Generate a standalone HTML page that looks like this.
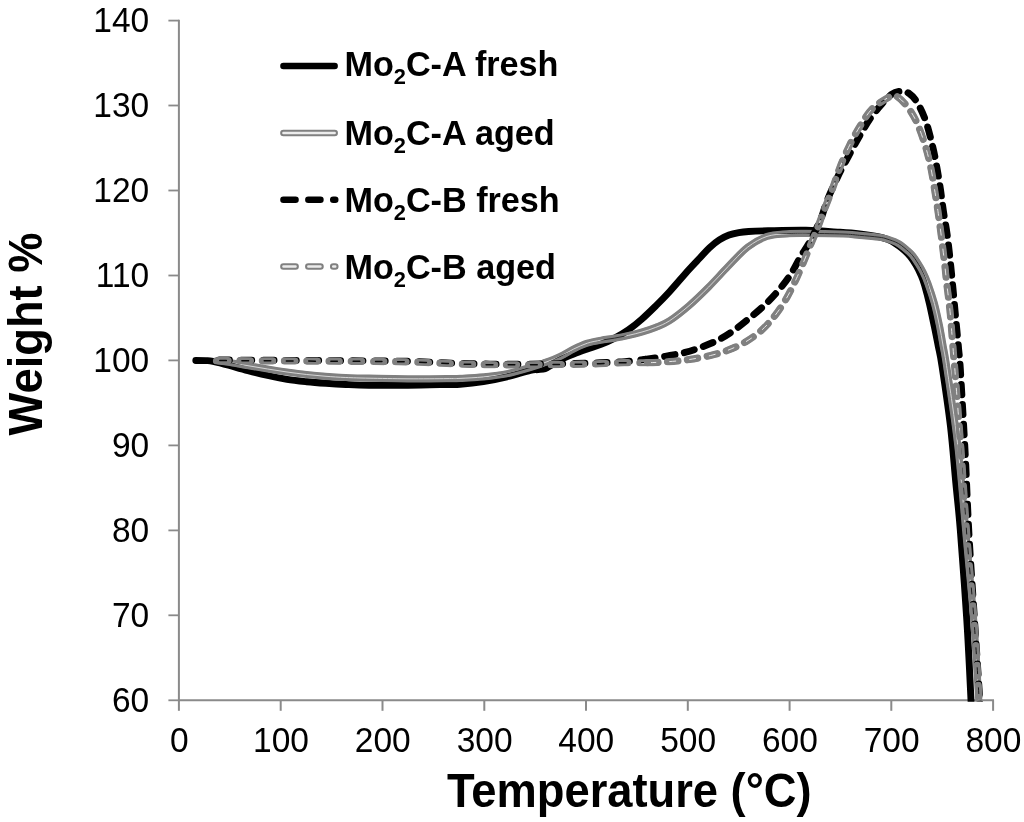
<!DOCTYPE html>
<html lang="en"><head><meta charset="utf-8"><title>TGA weight vs temperature</title>
<style>
html,body{margin:0;padding:0;background:#fff;}
body{width:1024px;height:822px;overflow:hidden;font-family:"Liberation Sans",sans-serif;}
svg{display:block;}
text{font-family:"Liberation Sans",sans-serif;fill:#000;}
.tick{font-size:33.5px;}
.leg{font-size:34.2px;font-weight:bold;}
.sub{font-size:21.8px;}
.ttl{font-size:45.3px;font-weight:bold;}
</style></head><body>
<svg width="1024" height="822" viewBox="0 0 1024 822">
<rect width="1024" height="822" fill="#fff"/>
<defs>
<clipPath id="plot"><rect x="170" y="0" width="854" height="701.7"/></clipPath>
<mask id="mAa" maskUnits="userSpaceOnUse" x="0" y="0" width="1024" height="822"><path d="M216.5 360.8C218.4 361.1 222.8 361.5 228.0 362.3C233.2 363.1 241.4 364.6 248.0 365.7C254.6 366.8 261.2 367.9 267.7 369.0C274.2 370.1 280.5 371.1 287.0 372.0C293.5 372.9 300.2 373.8 306.7 374.5C313.2 375.2 319.5 375.8 326.0 376.3C332.5 376.8 338.6 377.2 345.8 377.5C353.0 377.8 358.6 378.0 369.0 378.2C379.4 378.4 395.0 378.7 408.0 378.8C421.0 378.9 438.3 378.7 447.0 378.6C455.7 378.5 453.9 378.7 460.0 378.4C466.1 378.1 475.6 377.7 483.4 376.9C491.2 376.1 499.1 375.3 506.9 373.7C514.7 372.1 523.9 369.4 530.3 367.5C536.6 365.6 540.0 364.3 545.0 362.5C550.0 360.7 555.2 358.8 560.0 356.5C564.8 354.2 569.2 351.2 573.7 349.0C578.2 346.8 582.8 344.7 587.3 343.2C591.8 341.7 596.4 341.0 601.0 340.2C605.6 339.4 610.1 338.9 614.7 338.1C619.3 337.3 623.9 336.4 628.4 335.4C632.9 334.4 637.5 333.3 642.0 332.0C646.5 330.7 651.1 329.3 655.7 327.4C660.3 325.5 664.0 324.4 669.5 320.8C675.0 317.2 682.5 311.3 689.0 305.7C695.5 300.1 702.1 293.6 708.6 287.1C715.1 280.6 721.5 273.3 728.0 266.6C734.5 259.9 741.2 252.1 747.7 247.1C754.2 242.1 760.5 238.6 767.0 236.4C773.5 234.2 780.2 234.3 786.7 233.8C793.2 233.3 796.6 233.4 806.0 233.4C815.4 233.4 834.1 233.7 843.0 234.0C851.9 234.3 853.5 234.8 859.5 235.3C865.5 235.8 874.4 236.6 879.0 237.2C883.6 237.8 883.7 237.9 887.0 239.0C890.3 240.1 895.0 241.5 898.6 243.6C902.2 245.7 906.0 249.3 908.4 251.3C910.8 253.3 911.3 254.0 912.8 255.8C914.2 257.6 915.4 259.3 917.1 262.0C918.8 264.7 921.2 268.4 923.0 272.0C924.8 275.6 926.0 278.2 927.9 283.4C929.8 288.6 932.5 296.5 934.4 303.4C936.3 310.3 937.8 317.6 939.3 324.8C940.8 332.0 941.9 339.0 943.2 346.3C944.5 353.6 944.5 351.7 947.0 368.6C949.5 385.5 954.8 419.0 958.0 447.6C961.2 476.2 963.9 511.3 966.5 540.0C969.1 568.7 971.7 593.3 973.7 620.0C975.8 646.7 977.9 686.0 978.8 700.0C979.7 714.0 979.0 703.3 979.0 704.0" fill="none" stroke="#fff" stroke-width="8.2" stroke-linecap="round" stroke-linejoin="round"/><path d="M216.5 360.8C218.4 361.1 222.8 361.5 228.0 362.3C233.2 363.1 241.4 364.6 248.0 365.7C254.6 366.8 261.2 367.9 267.7 369.0C274.2 370.1 280.5 371.1 287.0 372.0C293.5 372.9 300.2 373.8 306.7 374.5C313.2 375.2 319.5 375.8 326.0 376.3C332.5 376.8 338.6 377.2 345.8 377.5C353.0 377.8 358.6 378.0 369.0 378.2C379.4 378.4 395.0 378.7 408.0 378.8C421.0 378.9 438.3 378.7 447.0 378.6C455.7 378.5 453.9 378.7 460.0 378.4C466.1 378.1 475.6 377.7 483.4 376.9C491.2 376.1 499.1 375.3 506.9 373.7C514.7 372.1 523.9 369.4 530.3 367.5C536.6 365.6 540.0 364.3 545.0 362.5C550.0 360.7 555.2 358.8 560.0 356.5C564.8 354.2 569.2 351.2 573.7 349.0C578.2 346.8 582.8 344.7 587.3 343.2C591.8 341.7 596.4 341.0 601.0 340.2C605.6 339.4 610.1 338.9 614.7 338.1C619.3 337.3 623.9 336.4 628.4 335.4C632.9 334.4 637.5 333.3 642.0 332.0C646.5 330.7 651.1 329.3 655.7 327.4C660.3 325.5 664.0 324.4 669.5 320.8C675.0 317.2 682.5 311.3 689.0 305.7C695.5 300.1 702.1 293.6 708.6 287.1C715.1 280.6 721.5 273.3 728.0 266.6C734.5 259.9 741.2 252.1 747.7 247.1C754.2 242.1 760.5 238.6 767.0 236.4C773.5 234.2 780.2 234.3 786.7 233.8C793.2 233.3 796.6 233.4 806.0 233.4C815.4 233.4 834.1 233.7 843.0 234.0C851.9 234.3 853.5 234.8 859.5 235.3C865.5 235.8 874.4 236.6 879.0 237.2C883.6 237.8 883.7 237.9 887.0 239.0C890.3 240.1 895.0 241.5 898.6 243.6C902.2 245.7 906.0 249.3 908.4 251.3C910.8 253.3 911.3 254.0 912.8 255.8C914.2 257.6 915.4 259.3 917.1 262.0C918.8 264.7 921.2 268.4 923.0 272.0C924.8 275.6 926.0 278.2 927.9 283.4C929.8 288.6 932.5 296.5 934.4 303.4C936.3 310.3 937.8 317.6 939.3 324.8C940.8 332.0 941.9 339.0 943.2 346.3C944.5 353.6 944.5 351.7 947.0 368.6C949.5 385.5 954.8 419.0 958.0 447.6C961.2 476.2 963.9 511.3 966.5 540.0C969.1 568.7 971.7 593.3 973.7 620.0C975.8 646.7 977.9 686.0 978.8 700.0C979.7 714.0 979.0 703.3 979.0 704.0" fill="none" stroke="#555" stroke-width="1.0" stroke-linecap="round" stroke-linejoin="round"/></mask>
<mask id="mBa1" maskUnits="userSpaceOnUse" x="0" y="0" width="1024" height="822"><path d="M218.0 360.6C225.0 360.6 241.3 360.7 260.0 360.8C278.7 360.9 307.3 361.1 330.0 361.2C352.7 361.3 380.2 361.5 396.0 361.7C411.8 361.9 416.5 362.2 425.0 362.5C433.5 362.8 439.5 363.2 447.0 363.5C454.5 363.8 462.8 364.1 470.0 364.3C477.2 364.5 482.8 364.6 490.0 364.7C497.2 364.8 501.3 364.8 513.0 364.8C524.7 364.8 545.5 364.7 560.0 364.5C574.5 364.3 589.3 364.0 600.0 363.7C610.7 363.4 616.4 362.9 624.3 362.7C632.2 362.5 640.0 362.9 647.5 362.7" fill="none" stroke="#fff" stroke-width="8.2" stroke-linecap="round" stroke-linejoin="round" stroke-dasharray="10.4 11.8"/><path d="M218.0 360.6C225.0 360.6 241.3 360.7 260.0 360.8C278.7 360.9 307.3 361.1 330.0 361.2C352.7 361.3 380.2 361.5 396.0 361.7C411.8 361.9 416.5 362.2 425.0 362.5C433.5 362.8 439.5 363.2 447.0 363.5C454.5 363.8 462.8 364.1 470.0 364.3C477.2 364.5 482.8 364.6 490.0 364.7C497.2 364.8 501.3 364.8 513.0 364.8C524.7 364.8 545.5 364.7 560.0 364.5C574.5 364.3 589.3 364.0 600.0 363.7C610.7 363.4 616.4 362.9 624.3 362.7C632.2 362.5 640.0 362.9 647.5 362.7" fill="none" stroke="#111" stroke-width="1.5" stroke-linecap="round" stroke-linejoin="round" stroke-dasharray="6.6 15.6" stroke-dashoffset="-1.9"/></mask>
<mask id="mBa2" maskUnits="userSpaceOnUse" x="0" y="0" width="1024" height="822"><path d="M647.5 362.7C655.0 362.5 662.3 362.2 669.4 361.6C676.5 361.1 683.1 360.4 690.0 359.4C696.9 358.4 704.2 357.0 710.5 355.5C716.8 354.0 722.1 352.5 728.0 350.2C733.9 347.9 740.2 345.1 745.7 341.8C751.2 338.5 756.4 334.9 761.3 330.5C766.2 326.1 770.8 320.9 775.0 315.5C779.2 310.1 783.1 304.1 786.7 297.9C790.3 291.7 793.4 285.1 796.5 278.4C799.6 271.7 802.7 264.1 805.3 257.9C807.9 251.7 810.0 246.0 812.0 241.3C814.0 236.6 815.1 234.3 817.0 229.5C818.9 224.7 820.7 219.2 823.2 212.6C825.7 206.0 829.2 197.6 832.0 190.1C834.8 182.6 836.9 175.2 839.8 167.7C842.7 160.2 846.2 152.2 849.6 145.2C853.0 138.2 856.6 131.7 860.3 125.7C864.0 119.7 867.4 113.6 872.0 109.0C876.6 104.4 883.8 100.1 887.7 97.9C891.6 95.7 892.4 94.6 895.5 95.8C898.6 97.0 902.8 101.0 906.2 105.2C909.6 109.4 912.9 114.3 916.0 120.8C919.1 127.3 922.4 136.5 924.8 144.2C927.2 151.8 929.0 159.2 930.6 166.7C932.2 174.2 933.3 181.6 934.5 189.1C935.7 196.6 936.9 203.9 938.0 211.6C939.1 219.3 940.1 226.8 941.2 235.3C942.3 243.8 943.5 254.2 944.5 262.6C945.5 271.0 946.1 278.4 947.0 285.9C947.9 293.3 948.9 300.2 949.6 307.3C950.4 314.4 950.9 320.9 951.5 328.7C952.1 336.5 953.0 347.4 953.5 354.0C954.0 360.6 953.5 352.6 954.8 368.6C956.0 384.6 959.0 422.3 961.0 450.0C963.0 477.7 964.6 506.7 966.8 535.0C969.0 563.3 971.9 592.5 974.0 620.0C976.1 647.5 978.3 686.0 979.2 700.0C980.1 714.0 979.4 703.3 979.4 704.0" fill="none" stroke="#fff" stroke-width="8.2" stroke-linecap="round" stroke-linejoin="round" stroke-dasharray="10.4 9.6"/><path d="M647.5 362.7C655.0 362.5 662.3 362.2 669.4 361.6C676.5 361.1 683.1 360.4 690.0 359.4C696.9 358.4 704.2 357.0 710.5 355.5C716.8 354.0 722.1 352.5 728.0 350.2C733.9 347.9 740.2 345.1 745.7 341.8C751.2 338.5 756.4 334.9 761.3 330.5C766.2 326.1 770.8 320.9 775.0 315.5C779.2 310.1 783.1 304.1 786.7 297.9C790.3 291.7 793.4 285.1 796.5 278.4C799.6 271.7 802.7 264.1 805.3 257.9C807.9 251.7 810.0 246.0 812.0 241.3C814.0 236.6 815.1 234.3 817.0 229.5C818.9 224.7 820.7 219.2 823.2 212.6C825.7 206.0 829.2 197.6 832.0 190.1C834.8 182.6 836.9 175.2 839.8 167.7C842.7 160.2 846.2 152.2 849.6 145.2C853.0 138.2 856.6 131.7 860.3 125.7C864.0 119.7 867.4 113.6 872.0 109.0C876.6 104.4 883.8 100.1 887.7 97.9C891.6 95.7 892.4 94.6 895.5 95.8C898.6 97.0 902.8 101.0 906.2 105.2C909.6 109.4 912.9 114.3 916.0 120.8C919.1 127.3 922.4 136.5 924.8 144.2C927.2 151.8 929.0 159.2 930.6 166.7C932.2 174.2 933.3 181.6 934.5 189.1C935.7 196.6 936.9 203.9 938.0 211.6C939.1 219.3 940.1 226.8 941.2 235.3C942.3 243.8 943.5 254.2 944.5 262.6C945.5 271.0 946.1 278.4 947.0 285.9C947.9 293.3 948.9 300.2 949.6 307.3C950.4 314.4 950.9 320.9 951.5 328.7C952.1 336.5 953.0 347.4 953.5 354.0C954.0 360.6 953.5 352.6 954.8 368.6C956.0 384.6 959.0 422.3 961.0 450.0C963.0 477.7 964.6 506.7 966.8 535.0C969.0 563.3 971.9 592.5 974.0 620.0C976.1 647.5 978.3 686.0 979.2 700.0C980.1 714.0 979.4 703.3 979.4 704.0" fill="none" stroke="#333" stroke-width="1.0" stroke-linecap="round" stroke-linejoin="round" stroke-dasharray="6 14" stroke-dashoffset="-2.2"/></mask>
<mask id="mL2" maskUnits="userSpaceOnUse" x="0" y="0" width="1024" height="822"><path d="M283.4 133H334.7" fill="none" stroke="#fff" stroke-width="8.2" stroke-linecap="round" stroke-linejoin="round"/><path d="M283.4 133H334.7" fill="none" stroke="#262626" stroke-width="2.4" stroke-linecap="round" stroke-linejoin="round"/></mask>
<mask id="mL4" maskUnits="userSpaceOnUse" x="0" y="0" width="1024" height="822"><path d="M283.4 266.5H335.3" fill="none" stroke="#fff" stroke-width="8.2" stroke-linecap="round" stroke-linejoin="round" stroke-dasharray="12.2 12.7"/><path d="M283.4 266.5H335.3" fill="none" stroke="#262626" stroke-width="2.4" stroke-linecap="round" stroke-linejoin="round" stroke-dasharray="12.2 12.7"/></mask>
</defs>
<g stroke="#8a8a8a" stroke-width="2" fill="none">
<path d="M178.9 19.7V701.2"/>
<path d="M178.0 700.3H994.0"/>
<path d="M168.4 20.6H178.9" stroke-width="1.8"/>
<path d="M168.4 105.5H178.9" stroke-width="1.8"/>
<path d="M168.4 190.5H178.9" stroke-width="1.8"/>
<path d="M168.4 275.5H178.9" stroke-width="1.8"/>
<path d="M168.4 360.4H178.9" stroke-width="1.8"/>
<path d="M168.4 445.4H178.9" stroke-width="1.8"/>
<path d="M168.4 530.4H178.9" stroke-width="1.8"/>
<path d="M168.4 615.3H178.9" stroke-width="1.8"/>
<path d="M168.4 700.3H178.9" stroke-width="1.8"/>
<path d="M178.9 700.3V710.8"/>
<path d="M280.7 700.3V710.8"/>
<path d="M382.5 700.3V710.8"/>
<path d="M484.3 700.3V710.8"/>
<path d="M586.0 700.3V710.8"/>
<path d="M687.8 700.3V710.8"/>
<path d="M789.6 700.3V710.8"/>
<path d="M891.3 700.3V710.8"/>
<path d="M993.1 700.3V710.8"/>
</g>
<g class="tick" text-anchor="end">
<text transform="translate(149.2 32.4) scale(1 1.04)">140</text>
<text transform="translate(149.2 117.3) scale(1 1.04)">130</text>
<text transform="translate(149.2 202.3) scale(1 1.04)">120</text>
<text transform="translate(149.2 287.3) scale(1 1.04)">110</text>
<text transform="translate(149.2 372.2) scale(1 1.04)">100</text>
<text transform="translate(149.2 457.2) scale(1 1.04)">90</text>
<text transform="translate(149.2 542.2) scale(1 1.04)">80</text>
<text transform="translate(149.2 627.1) scale(1 1.04)">70</text>
<text transform="translate(149.2 712.1) scale(1 1.04)">60</text>
</g>
<g class="tick" text-anchor="middle">
<text transform="translate(179.2 752.2) scale(1 1.04)">0</text>
<text transform="translate(281.0 752.2) scale(1 1.04)">100</text>
<text transform="translate(382.8 752.2) scale(1 1.04)">200</text>
<text transform="translate(484.6 752.2) scale(1 1.04)">300</text>
<text transform="translate(586.3 752.2) scale(1 1.04)">400</text>
<text transform="translate(688.1 752.2) scale(1 1.04)">500</text>
<text transform="translate(789.9 752.2) scale(1 1.04)">600</text>
<text transform="translate(891.6 752.2) scale(1 1.04)">700</text>
<text transform="translate(993.4 752.2) scale(1 1.04)">800</text>
</g>
<text class="ttl" transform="translate(629.3 807.2) scale(1 1.05)" text-anchor="middle">Temperature (°C)</text>
<text class="ttl" transform="translate(42.2 334) rotate(-90) scale(1 1.05)" text-anchor="middle">Weight %</text>
<g clip-path="url(#plot)" fill="none" stroke-linecap="round" stroke-linejoin="round" stroke-width="6.9">
<path d="M195.8 360.5C197.5 360.5 203.1 360.5 206.0 360.6C208.9 360.7 209.2 360.5 213.0 361.3C216.8 362.1 222.8 363.6 228.6 365.2C234.4 366.8 241.5 368.9 248.0 370.6C254.5 372.3 261.2 374.0 267.7 375.5C274.2 377.0 280.5 378.3 287.0 379.4C293.5 380.4 300.2 381.1 306.7 381.8C313.2 382.5 319.5 382.9 326.0 383.3C332.5 383.8 338.6 384.2 345.8 384.5C353.0 384.8 358.6 385.1 369.0 385.2C379.4 385.3 395.0 385.4 408.0 385.3C421.0 385.2 438.3 384.7 447.0 384.5C455.7 384.3 453.9 384.7 460.0 384.2C466.1 383.7 475.6 382.7 483.4 381.5C491.2 380.3 499.1 378.7 506.9 376.8C514.7 374.9 525.1 371.6 530.3 370.4C535.5 369.2 535.5 369.9 538.0 369.6C540.5 369.3 542.8 369.3 545.0 368.6C547.2 367.9 548.7 366.6 551.0 365.2C553.3 363.8 554.8 362.4 558.6 360.5C562.4 358.6 568.9 355.9 573.7 354.0C578.5 352.1 582.8 350.6 587.3 349.0C591.8 347.4 596.4 346.1 601.0 344.3C605.6 342.5 610.1 340.5 614.7 338.1C619.3 335.7 623.9 333.1 628.4 329.9C632.9 326.7 637.5 323.0 642.0 319.0C646.5 315.0 651.1 310.5 655.7 306.0C660.3 301.5 664.0 297.9 669.5 291.8C675.0 285.7 684.0 275.1 689.0 269.5C694.0 263.9 696.4 261.6 699.8 258.0C703.2 254.4 706.2 250.7 709.5 247.7C712.8 244.7 716.0 242.0 719.3 239.9C722.5 237.8 725.8 236.2 729.0 235.0C732.2 233.8 735.5 233.2 738.8 232.6C742.1 232.0 743.7 231.8 748.6 231.5C753.5 231.2 758.4 231.0 768.0 230.8C777.6 230.6 794.0 230.1 806.0 230.3C818.0 230.6 831.1 231.7 840.0 232.3C848.9 232.9 853.0 233.2 859.5 233.9C866.0 234.7 874.2 235.9 879.0 236.8C883.8 237.8 885.4 238.6 888.0 239.6C890.6 240.6 892.4 241.6 894.7 243.1C897.0 244.6 899.4 246.1 902.0 248.3C904.6 250.5 908.0 253.7 910.3 256.5C912.6 259.3 914.2 261.9 916.0 265.0C917.8 268.1 919.5 271.5 920.9 274.8C922.3 278.1 923.2 280.1 924.6 285.0C926.0 289.9 927.9 297.0 929.5 304.0C931.1 311.0 932.9 319.8 934.4 326.8C935.9 333.9 937.0 339.8 938.3 346.3C939.6 352.8 940.0 352.8 942.0 366.0C944.0 379.2 948.1 406.3 950.4 425.7C952.7 445.1 954.1 465.2 955.8 482.6C957.4 500.0 958.5 507.1 960.3 530.0C962.1 552.9 965.0 591.7 966.8 620.0C968.6 648.3 970.3 686.0 971.0 700.0C971.7 714.0 971.2 703.3 971.2 704.0" stroke="#000"/>
<path d="M216.5 360.8C218.4 361.1 222.8 361.5 228.0 362.3C233.2 363.1 241.4 364.6 248.0 365.7C254.6 366.8 261.2 367.9 267.7 369.0C274.2 370.1 280.5 371.1 287.0 372.0C293.5 372.9 300.2 373.8 306.7 374.5C313.2 375.2 319.5 375.8 326.0 376.3C332.5 376.8 338.6 377.2 345.8 377.5C353.0 377.8 358.6 378.0 369.0 378.2C379.4 378.4 395.0 378.7 408.0 378.8C421.0 378.9 438.3 378.7 447.0 378.6C455.7 378.5 453.9 378.7 460.0 378.4C466.1 378.1 475.6 377.7 483.4 376.9C491.2 376.1 499.1 375.3 506.9 373.7C514.7 372.1 523.9 369.4 530.3 367.5C536.6 365.6 540.0 364.3 545.0 362.5C550.0 360.7 555.2 358.8 560.0 356.5C564.8 354.2 569.2 351.2 573.7 349.0C578.2 346.8 582.8 344.7 587.3 343.2C591.8 341.7 596.4 341.0 601.0 340.2C605.6 339.4 610.1 338.9 614.7 338.1C619.3 337.3 623.9 336.4 628.4 335.4C632.9 334.4 637.5 333.3 642.0 332.0C646.5 330.7 651.1 329.3 655.7 327.4C660.3 325.5 664.0 324.4 669.5 320.8C675.0 317.2 682.5 311.3 689.0 305.7C695.5 300.1 702.1 293.6 708.6 287.1C715.1 280.6 721.5 273.3 728.0 266.6C734.5 259.9 741.2 252.1 747.7 247.1C754.2 242.1 760.5 238.6 767.0 236.4C773.5 234.2 780.2 234.3 786.7 233.8C793.2 233.3 796.6 233.4 806.0 233.4C815.4 233.4 834.1 233.7 843.0 234.0C851.9 234.3 853.5 234.8 859.5 235.3C865.5 235.8 874.4 236.6 879.0 237.2C883.6 237.8 883.7 237.9 887.0 239.0C890.3 240.1 895.0 241.5 898.6 243.6C902.2 245.7 906.0 249.3 908.4 251.3C910.8 253.3 911.3 254.0 912.8 255.8C914.2 257.6 915.4 259.3 917.1 262.0C918.8 264.7 921.2 268.4 923.0 272.0C924.8 275.6 926.0 278.2 927.9 283.4C929.8 288.6 932.5 296.5 934.4 303.4C936.3 310.3 937.8 317.6 939.3 324.8C940.8 332.0 941.9 339.0 943.2 346.3C944.5 353.6 944.5 351.7 947.0 368.6C949.5 385.5 954.8 419.0 958.0 447.6C961.2 476.2 963.9 511.3 966.5 540.0C969.1 568.7 971.7 593.3 973.7 620.0C975.8 646.7 977.9 686.0 978.8 700.0C979.7 714.0 979.0 703.3 979.0 704.0" stroke="#808080" stroke-width="7.2" mask="url(#mAa)"/>
<path d="M219.3 360.0C226.1 360.0 241.6 360.1 260.0 360.2C278.4 360.3 307.3 360.5 330.0 360.6C352.7 360.8 380.2 360.9 396.0 361.1C411.8 361.3 416.5 361.6 425.0 361.9C433.5 362.2 439.5 362.6 447.0 362.9C454.5 363.2 462.8 363.5 470.0 363.7C477.2 363.9 482.8 364.0 490.0 364.1C497.2 364.2 501.3 364.2 513.0 364.2C524.7 364.1 545.5 364.0 560.0 363.8C574.5 363.6 589.2 363.2 600.0 362.8C610.8 362.4 617.5 362.2 625.0 361.6C632.5 361.0 638.1 360.2 644.8 359.3" stroke="#000" stroke-dasharray="10.4 11.8"/>
<path d="M644.8 359.3C651.5 358.4 658.6 357.5 665.3 356.3C672.0 355.1 678.9 354.0 685.1 352.4C691.3 350.8 696.8 348.9 702.7 346.7C708.6 344.4 714.8 341.9 720.3 338.9C725.8 335.9 730.8 332.6 736.0 328.8C741.2 325.1 746.8 320.4 751.6 316.4C756.4 312.4 760.6 308.9 765.0 304.7C769.4 300.5 773.7 296.0 778.0 291.0C782.3 286.0 786.9 280.2 790.6 274.5C794.3 268.8 797.3 262.1 800.4 256.9C803.5 251.7 806.4 247.8 809.0 243.2C811.6 238.6 813.8 234.1 816.0 229.5C818.2 224.9 820.2 220.7 822.0 215.9C823.8 211.1 824.4 207.5 827.0 200.9C829.6 194.3 834.3 183.9 837.9 176.4C841.5 168.9 845.0 162.7 848.6 156.0C852.2 149.3 855.7 142.6 859.3 136.4C862.9 130.2 866.4 124.0 870.0 118.8C873.6 113.6 877.2 109.3 880.8 105.2C884.4 101.1 888.2 96.8 891.6 94.4C895.0 92.1 898.4 91.3 901.3 91.1C904.2 90.9 906.4 91.6 909.0 93.4C911.6 95.2 914.2 97.6 917.0 102.2C919.8 106.8 923.1 113.5 925.7 120.8C928.3 128.1 930.7 138.4 932.6 146.2C934.5 154.0 935.6 160.5 936.9 167.7C938.2 174.8 939.3 181.9 940.4 189.1C941.5 196.2 942.2 203.2 943.3 210.6C944.4 218.0 945.9 225.4 947.0 233.4C948.1 241.4 949.0 249.6 950.0 258.7C951.0 267.8 951.9 277.8 952.9 287.9C953.9 297.9 954.8 308.6 955.8 319.0C956.8 329.4 958.0 341.8 958.7 350.1C959.5 358.4 959.2 352.0 960.3 368.6C961.3 385.2 963.5 422.3 965.0 450.0C966.5 477.7 967.4 506.7 969.0 535.0C970.6 563.3 972.7 592.5 974.5 620.0C976.3 647.5 978.9 686.0 979.8 700.0C980.7 714.0 980.0 703.3 980.0 704.0" stroke="#000" stroke-dasharray="10.4 9.6"/>
<path d="M218.0 360.6C225.0 360.6 241.3 360.7 260.0 360.8C278.7 360.9 307.3 361.1 330.0 361.2C352.7 361.3 380.2 361.5 396.0 361.7C411.8 361.9 416.5 362.2 425.0 362.5C433.5 362.8 439.5 363.2 447.0 363.5C454.5 363.8 462.8 364.1 470.0 364.3C477.2 364.5 482.8 364.6 490.0 364.7C497.2 364.8 501.3 364.8 513.0 364.8C524.7 364.8 545.5 364.7 560.0 364.5C574.5 364.3 589.3 364.0 600.0 363.7C610.7 363.4 616.4 362.9 624.3 362.7C632.2 362.5 640.0 362.9 647.5 362.7" stroke="#808080" stroke-width="7.2" stroke-dasharray="10.4 11.8" mask="url(#mBa1)"/>
<path d="M647.5 362.7C655.0 362.5 662.3 362.2 669.4 361.6C676.5 361.1 683.1 360.4 690.0 359.4C696.9 358.4 704.2 357.0 710.5 355.5C716.8 354.0 722.1 352.5 728.0 350.2C733.9 347.9 740.2 345.1 745.7 341.8C751.2 338.5 756.4 334.9 761.3 330.5C766.2 326.1 770.8 320.9 775.0 315.5C779.2 310.1 783.1 304.1 786.7 297.9C790.3 291.7 793.4 285.1 796.5 278.4C799.6 271.7 802.7 264.1 805.3 257.9C807.9 251.7 810.0 246.0 812.0 241.3C814.0 236.6 815.1 234.3 817.0 229.5C818.9 224.7 820.7 219.2 823.2 212.6C825.7 206.0 829.2 197.6 832.0 190.1C834.8 182.6 836.9 175.2 839.8 167.7C842.7 160.2 846.2 152.2 849.6 145.2C853.0 138.2 856.6 131.7 860.3 125.7C864.0 119.7 867.4 113.6 872.0 109.0C876.6 104.4 883.8 100.1 887.7 97.9C891.6 95.7 892.4 94.6 895.5 95.8C898.6 97.0 902.8 101.0 906.2 105.2C909.6 109.4 912.9 114.3 916.0 120.8C919.1 127.3 922.4 136.5 924.8 144.2C927.2 151.8 929.0 159.2 930.6 166.7C932.2 174.2 933.3 181.6 934.5 189.1C935.7 196.6 936.9 203.9 938.0 211.6C939.1 219.3 940.1 226.8 941.2 235.3C942.3 243.8 943.5 254.2 944.5 262.6C945.5 271.0 946.1 278.4 947.0 285.9C947.9 293.3 948.9 300.2 949.6 307.3C950.4 314.4 950.9 320.9 951.5 328.7C952.1 336.5 953.0 347.4 953.5 354.0C954.0 360.6 953.5 352.6 954.8 368.6C956.0 384.6 959.0 422.3 961.0 450.0C963.0 477.7 964.6 506.7 966.8 535.0C969.0 563.3 971.9 592.5 974.0 620.0C976.1 647.5 978.3 686.0 979.2 700.0C980.1 714.0 979.4 703.3 979.4 704.0" stroke="#808080" stroke-width="7.2" stroke-dasharray="10.4 9.6" mask="url(#mBa2)"/>
</g>
<g fill="none" stroke-linecap="round" stroke-width="6.9">
<path d="M283.4 66H334.7" stroke="#000" stroke-width="6.4"/>
<path d="M283.4 133H334.7" stroke="#808080" stroke-width="6.5" mask="url(#mL2)"/>
<path d="M283.4 199.8H335.3" stroke="#000" stroke-width="6.4" stroke-dasharray="12.2 12.7"/>
<path d="M283.4 266.5H335.3" stroke="#808080" stroke-width="6.5" stroke-dasharray="12.2 12.7" mask="url(#mL4)"/>
</g>
<g class="leg">
<text transform="translate(344.4 76.3) scale(1 1.04)">Mo<tspan class="sub" dy="7.4">2</tspan><tspan dy="-7.4">C-A fresh</tspan></text>
<text transform="translate(344.4 144.8) scale(1 1.04)">Mo<tspan class="sub" dy="7.4">2</tspan><tspan dy="-7.4">C-A aged</tspan></text>
<text transform="translate(344.4 212.0) scale(1 1.04)">Mo<tspan class="sub" dy="7.4">2</tspan><tspan dy="-7.4">C-B fresh</tspan></text>
<text transform="translate(344.4 279.3) scale(1 1.04)">Mo<tspan class="sub" dy="7.4">2</tspan><tspan dy="-7.4">C-B aged</tspan></text>
</g>
</svg>
</body></html>
